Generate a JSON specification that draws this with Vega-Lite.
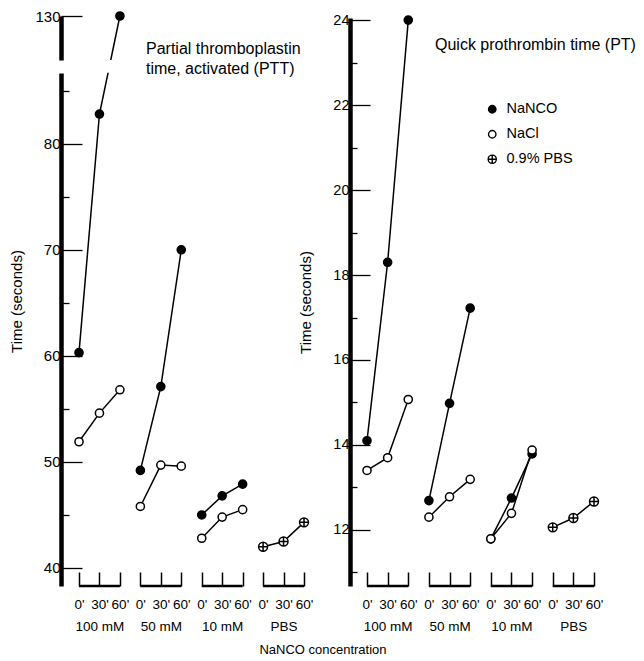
{
  "$schema": "https://vega.github.io/schema/vega-lite/v6.json",
  "background": "white",
  "padding": {"left": 9, "top": 8, "right": 0, "bottom": 0},
  "bounds": "flush",
  "spacing": 52,
  "title": {"text": "NaNCO concentration", "orient": "bottom", "anchor": "middle", "font": "Liberation Sans", "fontSize": 13, "fontWeight": "normal", "color": "black", "offset": 11},
  "datasets": {
    "ptt": [
      {"conc": "100 mM", "time": "0'", "series": "NaNCO", "sec": 60.3},
      {"conc": "100 mM", "time": "30'", "series": "NaNCO", "sec": 82.8},
      {"conc": "100 mM", "time": "60'", "series": "NaNCO", "sec": 130},
      {"conc": "100 mM", "time": "0'", "series": "NaCl", "sec": 51.9},
      {"conc": "100 mM", "time": "30'", "series": "NaCl", "sec": 54.6},
      {"conc": "100 mM", "time": "60'", "series": "NaCl", "sec": 56.8},
      {"conc": "50 mM", "time": "0'", "series": "NaNCO", "sec": 49.2},
      {"conc": "50 mM", "time": "30'", "series": "NaNCO", "sec": 57.1},
      {"conc": "50 mM", "time": "60'", "series": "NaNCO", "sec": 70.0},
      {"conc": "50 mM", "time": "0'", "series": "NaCl", "sec": 45.8},
      {"conc": "50 mM", "time": "30'", "series": "NaCl", "sec": 49.7},
      {"conc": "50 mM", "time": "60'", "series": "NaCl", "sec": 49.6},
      {"conc": "10 mM", "time": "0'", "series": "NaNCO", "sec": 45.0},
      {"conc": "10 mM", "time": "30'", "series": "NaNCO", "sec": 46.8},
      {"conc": "10 mM", "time": "60'", "series": "NaNCO", "sec": 47.9},
      {"conc": "10 mM", "time": "0'", "series": "NaCl", "sec": 42.8},
      {"conc": "10 mM", "time": "30'", "series": "NaCl", "sec": 44.8},
      {"conc": "10 mM", "time": "60'", "series": "NaCl", "sec": 45.5},
      {"conc": "PBS", "time": "0'", "series": "0.9% PBS", "sec": 42.0},
      {"conc": "PBS", "time": "30'", "series": "0.9% PBS", "sec": 42.5},
      {"conc": "PBS", "time": "60'", "series": "0.9% PBS", "sec": 44.3}
    ],
    "pt": [
      {"conc": "100 mM", "time": "0'", "series": "NaNCO", "sec": 14.1},
      {"conc": "100 mM", "time": "30'", "series": "NaNCO", "sec": 18.3},
      {"conc": "100 mM", "time": "60'", "series": "NaNCO", "sec": 24.0},
      {"conc": "100 mM", "time": "0'", "series": "NaCl", "sec": 13.4},
      {"conc": "100 mM", "time": "30'", "series": "NaCl", "sec": 13.7},
      {"conc": "100 mM", "time": "60'", "series": "NaCl", "sec": 15.07},
      {"conc": "50 mM", "time": "0'", "series": "NaNCO", "sec": 12.69},
      {"conc": "50 mM", "time": "30'", "series": "NaNCO", "sec": 14.98},
      {"conc": "50 mM", "time": "60'", "series": "NaNCO", "sec": 17.22},
      {"conc": "50 mM", "time": "0'", "series": "NaCl", "sec": 12.3},
      {"conc": "50 mM", "time": "30'", "series": "NaCl", "sec": 12.78},
      {"conc": "50 mM", "time": "60'", "series": "NaCl", "sec": 13.19},
      {"conc": "10 mM", "time": "0'", "series": "NaNCO", "sec": 11.79},
      {"conc": "10 mM", "time": "30'", "series": "NaNCO", "sec": 12.75},
      {"conc": "10 mM", "time": "60'", "series": "NaNCO", "sec": 13.79},
      {"conc": "10 mM", "time": "0'", "series": "NaCl", "sec": 11.79},
      {"conc": "10 mM", "time": "30'", "series": "NaCl", "sec": 12.39},
      {"conc": "10 mM", "time": "60'", "series": "NaCl", "sec": 13.88},
      {"conc": "PBS", "time": "0'", "series": "0.9% PBS", "sec": 12.06},
      {"conc": "PBS", "time": "30'", "series": "0.9% PBS", "sec": 12.28},
      {"conc": "PBS", "time": "60'", "series": "0.9% PBS", "sec": 12.67}
    ],
    "brk": [
      {"start": "100 mM|0'", "end": "100 mM|60'"},
      {"start": "50 mM|0'", "end": "50 mM|60'"},
      {"start": "10 mM|0'", "end": "10 mM|60'"},
      {"start": "PBS|0'", "end": "PBS|60'"}
    ]
  },
  "hconcat": [
    {
      "width": 237,
      "height": 568,
      "title": {"text": ["Partial thromboplastin", "time, activated (PTT)"], "anchor": "start", "frame": "group", "orient": "top", "baseline": "top", "offset": 0, "dx": 85, "dy": 68, "font": "Liberation Sans", "fontSize": 16, "fontWeight": "normal", "color": "black", "lineHeight": 20},
      "layer": [
        {
          "data": {"name": "brk"},
          "mark": {"type": "rule", "color": "black", "strokeWidth": 2.5},
          "encoding": {
            "x": {"field": "start", "type": "ordinal", "title": null,
              "scale": {"type": "point", "domain": ["100 mM|0'", "100 mM|30'", "100 mM|60'", "50 mM|0'", "50 mM|30'", "50 mM|60'", "10 mM|0'", "10 mM|30'", "10 mM|60'", "PBS|0'", "PBS|30'", "PBS|60'"], "range": [18, 243], "padding": 0},
              "axis": {"orient": "bottom", "domain": false, "grid": false, "tickSize": -14, "tickWidth": 1.5, "tickColor": "black", "labelPadding": 25, "labelAngle": 0, "labelBaseline": "top", "labelOverlap": false, "labelFont": "Liberation Sans", "labelFontSize": 13.5, "labelColor": "black", "labelLineHeight": 22, "labelExpr": "[split(datum.value,'|')[1], indexof(datum.value,'|30') > 0 ? split(datum.value,'|')[0] : '']", "zindex": 0}},
            "x2": {"field": "end"},
            "y": {"datum": 38.3, "type": "quantitative", "title": "Time (seconds)",
              "scale": {"domain": [38.3, 88, 130], "range": [568, 40.9, -2], "nice": false, "zero": false},
              "axis": {"values": [40, 45, 50, 55, 60, 65, 70, 75, 80, 85, 130], "grid": false, "labelExpr": "datum.value % 10 === 0 ? datum.label : ''", "tickSize": {"condition": {"test": "datum.value % 10 === 0", "value": -21}, "value": -8}, "tickWidth": 1.3, "tickColor": "black", "labelPadding": 22, "labelFont": "Liberation Sans", "labelFontSize": 15, "labelColor": "black", "labelFlush": false, "labelOverlap": false, "domainWidth": 4.5, "domainColor": "black", "domainDash": [513, 13, 1000], "titleFont": "Liberation Sans", "titleFontSize": 15, "titleFontWeight": "normal", "titleColor": "black", "titlePadding": 10, "zindex": 0}}
          }
        },
        {
          "data": {"name": "ptt"},
          "transform": [{"calculate": "datum.conc + '|' + datum.time", "as": "cond"}],
          "mark": {"type": "line", "color": "black", "strokeWidth": 1.5},
          "encoding": {
            "x": {"field": "cond", "type": "ordinal", "title": null},
            "y": {"field": "sec", "type": "quantitative", "title": "Time (seconds)"},
            "detail": [{"field": "series"}, {"field": "conc"}]
          }
        },
        {
          "data": {"values": [{}]},
          "mark": {"type": "rect", "color": "white"},
          "encoding": {
            "x": {"datum": "100 mM|0'", "type": "ordinal"},
            "x2": {"datum": "100 mM|60'"},
            "y": {"datum": 86.7, "type": "quantitative"},
            "y2": {"datum": 87.9}
          }
        },
        {
          "data": {"name": "ptt"},
          "transform": [{"calculate": "datum.conc + '|' + datum.time", "as": "cond"}],
          "mark": {"type": "point", "filled": true, "stroke": "black", "strokeWidth": 1.5, "size": 66, "opacity": 1},
          "encoding": {
            "x": {"field": "cond", "type": "ordinal", "title": null},
            "y": {"field": "sec", "type": "quantitative", "title": "Time (seconds)"},
            "shape": {"field": "series", "type": "nominal", "legend": null,
              "scale": {"domain": ["NaNCO", "NaCl", "0.9% PBS"], "range": ["circle", "circle", "M-1.1,0A1.1,1.1,0,1,0,1.1,0A1.1,1.1,0,1,0,-1.1,0ZM-1.1,0L1.1,0M0,-1.1L0,1.1"]}},
            "fill": {"field": "series", "type": "nominal", "legend": null,
              "scale": {"domain": ["NaNCO", "NaCl", "0.9% PBS"], "range": ["black", "white", "white"]}}
          }
        }
      ]
    },
    {
      "width": 260,
      "height": 568,
      "title": {"text": "Quick prothrombin time (PT)", "anchor": "start", "frame": "group", "orient": "top", "baseline": "top", "offset": 0, "dx": 85, "dy": 41, "font": "Liberation Sans", "fontSize": 16, "fontWeight": "normal", "color": "black"},
      "layer": [
        {
          "data": {"name": "brk"},
          "mark": {"type": "rule", "color": "black", "strokeWidth": 2.5},
          "encoding": {
            "x": {"field": "start", "type": "ordinal", "title": null,
              "scale": {"type": "point", "domain": ["100 mM|0'", "100 mM|30'", "100 mM|60'", "50 mM|0'", "50 mM|30'", "50 mM|60'", "10 mM|0'", "10 mM|30'", "10 mM|60'", "PBS|0'", "PBS|30'", "PBS|60'"], "range": [17, 244], "padding": 0},
              "axis": {"orient": "bottom", "domain": false, "grid": false, "tickSize": -14, "tickWidth": 1.5, "tickColor": "black", "labelPadding": 25, "labelAngle": 0, "labelBaseline": "top", "labelOverlap": false, "labelFont": "Liberation Sans", "labelFontSize": 13.5, "labelColor": "black", "labelLineHeight": 22, "labelExpr": "[split(datum.value,'|')[1], indexof(datum.value,'|30') > 0 ? split(datum.value,'|')[0] : '']", "zindex": 0}},
            "x2": {"field": "end"},
            "y": {"datum": 10.68, "type": "quantitative", "title": "Time (seconds)",
              "scale": {"domain": [10.68, 24.05], "nice": false, "zero": false},
              "axis": {"values": [11, 12, 13, 14, 15, 16, 17, 18, 19, 20, 21, 22, 23, 24], "grid": false, "labelExpr": "datum.value % 2 === 0 ? datum.label : ''", "tickSize": {"condition": {"test": "datum.value % 2 === 0", "value": -20}, "value": -7}, "tickWidth": 1.3, "tickColor": "black", "labelPadding": 21, "labelFont": "Liberation Sans", "labelFontSize": 14.5, "labelColor": "black", "labelFlush": false, "labelOverlap": false, "domainWidth": 4.5, "domainColor": "black", "titleFont": "Liberation Sans", "titleFontSize": 15, "titleFontWeight": "normal", "titleColor": "black", "titlePadding": 19, "zindex": 0}}
          }
        },
        {
          "data": {"name": "pt"},
          "transform": [{"calculate": "datum.conc + '|' + datum.time", "as": "cond"}],
          "mark": {"type": "line", "color": "black", "strokeWidth": 1.5},
          "encoding": {
            "x": {"field": "cond", "type": "ordinal", "title": null},
            "y": {"field": "sec", "type": "quantitative", "title": "Time (seconds)"},
            "detail": [{"field": "series"}, {"field": "conc"}]
          }
        },
        {
          "data": {"name": "pt"},
          "transform": [{"calculate": "datum.conc + '|' + datum.time", "as": "cond"}],
          "mark": {"type": "point", "filled": true, "stroke": "black", "strokeWidth": 1.5, "size": 66, "opacity": 1},
          "encoding": {
            "x": {"field": "cond", "type": "ordinal", "title": null},
            "y": {"field": "sec", "type": "quantitative", "title": "Time (seconds)"},
            "shape": {"field": "series", "type": "nominal", "title": null,
              "scale": {"domain": ["NaNCO", "NaCl", "0.9% PBS"], "range": ["circle", "circle", "M-1.1,0A1.1,1.1,0,1,0,1.1,0A1.1,1.1,0,1,0,-1.1,0ZM-1.1,0L1.1,0M0,-1.1L0,1.1"]},
              "legend": {"orient": "none", "legendX": 135, "legendY": 84, "title": null, "padding": 0, "labelFont": "Liberation Sans", "labelFontSize": 14.5, "labelColor": "black", "symbolSize": 55, "symbolStrokeWidth": 1.4, "rowPadding": 10, "labelOffset": 7}},
            "fill": {"field": "series", "type": "nominal", "title": null,
              "scale": {"domain": ["NaNCO", "NaCl", "0.9% PBS"], "range": ["black", "white", "white"]},
              "legend": {"orient": "none", "legendX": 135, "legendY": 84, "title": null, "padding": 0, "labelFont": "Liberation Sans", "labelFontSize": 14.5, "labelColor": "black", "symbolSize": 55, "symbolStrokeWidth": 1.4, "rowPadding": 10, "labelOffset": 7}}
          }
        }
      ]
    }
  ],
  "resolve": {"scale": {"x": "independent", "y": "independent", "shape": "independent", "fill": "independent"}, "legend": {"shape": "independent", "fill": "independent"}},
  "config": {"view": {"stroke": null}}
}
